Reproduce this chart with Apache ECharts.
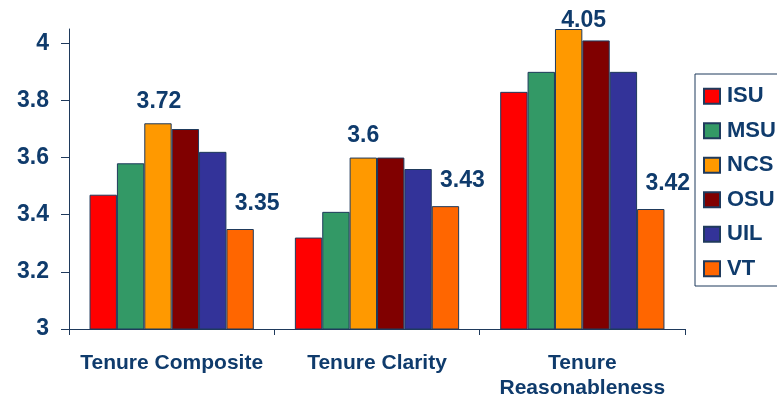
<!DOCTYPE html>
<html>
<head>
<meta charset="utf-8">
<script src="https://cdn.jsdelivr.net/npm/echarts@6/dist/echarts.min.js"></script>
<style>
  html, body { margin: 0; padding: 0; background: #ffffff; }
  #chart { width: 777px; height: 401px; }
</style>
</head>
<body>
<div id="chart"></div>
<script>
// Survey scores by institution for three tenure measures
const categories = ['Tenure Composite', 'Tenure Clarity', 'Tenure\nReasonableness'];
const seriesNames = ['ISU', 'MSU', 'NCS', 'OSU', 'UIL', 'VT'];
const isu = [3.47, 3.32, 3.83];
const msu = [3.58, 3.41, 3.90];
const ncs = [3.72, 3.60, 4.05];
const osu = [3.70, 3.60, 4.01];
const uil = [3.62, 3.56, 3.90];
const vt  = [3.35, 3.43, 3.42];
const yTicks = [3, 3.2, 3.4, 3.6, 3.8, 4];

const values = [isu, msu, ncs, osu, uil, vt];
const colors = ['#ff0000', '#339966', '#ff9900', '#800000', '#333399', '#ff6600'];
const textColor = '#0f3b6c';
const font = 'Liberation Sans, Arial, sans-serif';

// Only NCS and VT bars carry value labels
const labelledSeries = { NCS: [[1, 0], [0, 0], [15, 13]], VT: [[17, -4], [17, -4], [17, -4]] };

const series = seriesNames.map((name, si) => {
  const offsets = labelledSeries[name];
  return {
    name: name,
    type: 'bar',
    barGap: '0%',
    barCategoryGap: '20%',
    itemStyle: { color: colors[si], borderColor: '#1f3a5c', borderWidth: 1 },
    label: {
      show: !!offsets,
      position: 'top',
      distance: 10,
      color: textColor,
      fontFamily: font,
      fontWeight: 'bold',
      fontSize: 23
    },
    data: values[si].map((v, i) => offsets
      ? { value: v, label: { offset: offsets[i] } }
      : v)
  };
});

const chart = echarts.init(document.getElementById('chart'), null, { renderer: 'canvas' });
chart.setOption({
  animation: false,
  backgroundColor: '#ffffff',
  grid: { left: 69, right: 92, top: 29, bottom: 70, containLabel: false },
  legend: {
    orient: 'vertical',
    left: 695,
    top: 74,
    padding: [11, 20, 6, 8],
    itemWidth: 16,
    itemHeight: 15,
    itemGap: 12,
    borderColor: '#1f3a5c',
    borderWidth: 1,
    icon: 'rect',
    data: seriesNames,
    textStyle: {
      color: textColor,
      fontFamily: font,
      fontWeight: 'bold',
      fontSize: 22,
      lineHeight: 22.5,
      padding: [0, 0, 0, 2]
    }
  },
  xAxis: {
    type: 'category',
    data: categories,
    axisLine: { lineStyle: { color: '#1f3a5c', width: 1 } },
    axisTick: { show: true, length: 6, lineStyle: { color: '#1f3a5c' } },
    axisLabel: {
      interval: 0,
      margin: 22,
      color: textColor,
      fontFamily: font,
      fontWeight: 'bold',
      fontSize: 21,
      lineHeight: 25
    }
  },
  yAxis: {
    type: 'value',
    min: 3,
    max: 4.05,
    interval: 0.2,
    splitLine: { show: false },
    axisLine: { show: true, lineStyle: { color: '#1f3a5c', width: 1 } },
    axisTick: { show: true, length: 8, customValues: yTicks, lineStyle: { color: '#1f3a5c' } },
    axisLabel: {
      customValues: yTicks,
      margin: 20,
      color: textColor,
      fontFamily: font,
      fontWeight: 'bold',
      fontSize: 23,
      formatter: v => String(v)
    }
  },
  series: series
});
</script>
</body>
</html>
